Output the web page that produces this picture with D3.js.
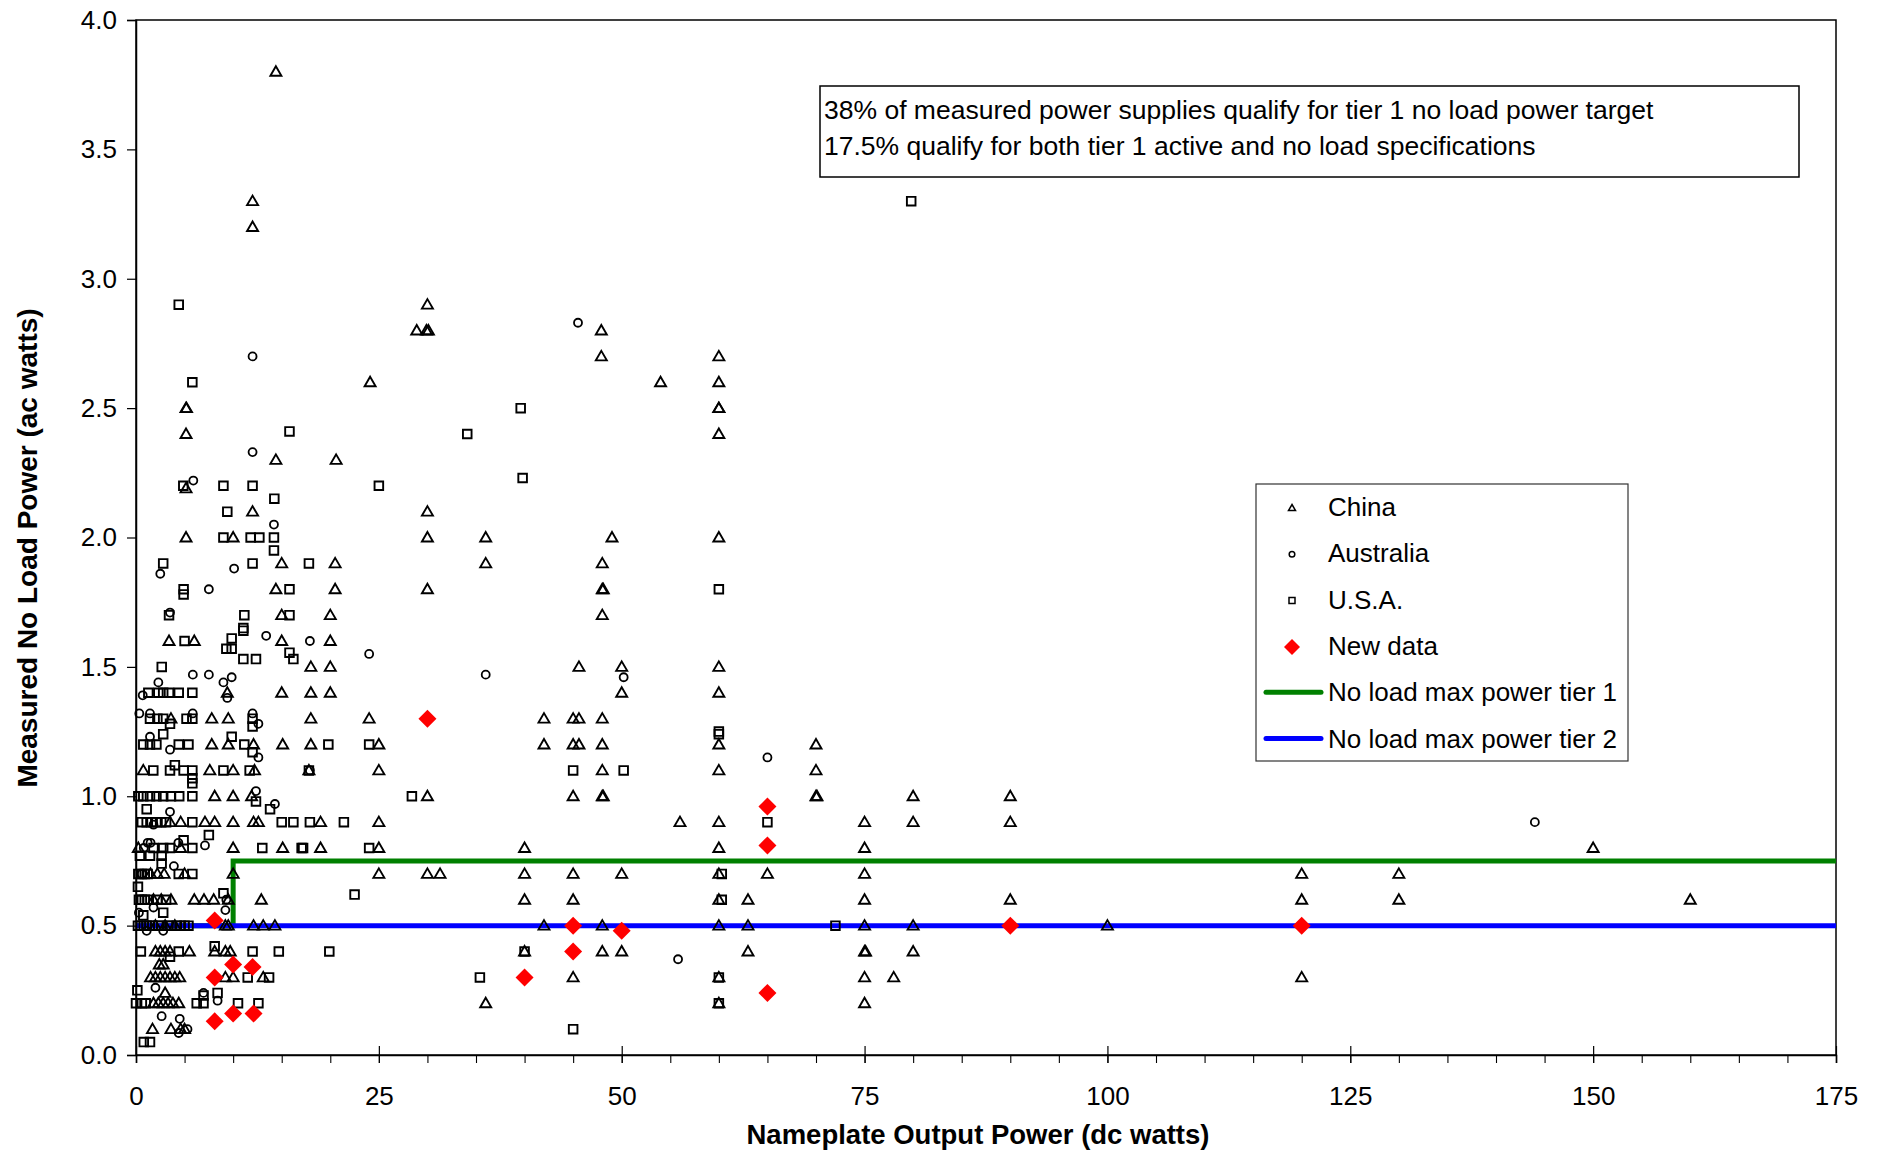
<!DOCTYPE html>
<html>
<head>
<meta charset="utf-8">
<script src="https://cdn.jsdelivr.net/npm/d3@7"></script>
<style>
  body { margin: 0; background: #fff; }
  text { font-family: Arial, "Liberation Sans", sans-serif; fill: #000; }
</style>
</head>
<body>
<div id="chart"></div>
<script>
// No load power vs nameplate output power, scatter by region of measurement

// China (triangles) [watts out, watts no load]
const chinaPts = [
  [14.4,3.8],[12,3.3],[12,3.2],
  [30,2.9],[28.9,2.8],[29.9,2.8],[30.1,2.8],[47.9,2.8],[47.9,2.7],
  [60,2.7],[60,2.6],[60,2.5],[60,2.5],[60,2.4],[54,2.6],[24.1,2.6],
  [5.15,2.5],[5.2,2.5],[5.15,2.4],[14.4,2.3],[20.6,2.3],[5.15,2.19],
  [30,2.1],[12,2.1],
  [30,2.0],[36,2.0],[49,2.0],[60,2.0],[5.15,2.0],[10,2.0],
  [20.5,1.9],[36,1.9],[48,1.9],[15,1.9],
  [20.5,1.8],[30,1.8],[48,1.8],[48.1,1.8],[14.4,1.8],
  [20,1.7],[48,1.7],[15,1.7],
  [20,1.6],[15,1.6],[3.4,1.6],[6,1.6],
  [18,1.5],[20,1.5],[45.6,1.5],[50,1.5],[60,1.5],
  [18,1.4],[20,1.4],[50,1.4],[60,1.4],[15,1.4],[9.4,1.4],
  [18,1.3],[24,1.3],[42,1.3],[45,1.3],[45.6,1.3],[48,1.3],[3.6,1.3],[7.8,1.3],[9.5,1.3],
  [60,1.2],[18,1.2],[25,1.2],[42,1.2],[45,1.2],[45.6,1.2],[48,1.2],[70,1.2],[7.8,1.2],[9.5,1.2],[12.1,1.2],[15.1,1.2],
  [17.8,1.1],[25,1.1],[48,1.1],[60,1.1],[70,1.1],[0.75,1.1],[7.6,1.1],[10,1.1],[12.2,1.1],
  [30,1.0],[45,1.0],[48,1.0],[48.1,1.0],[70,1.0],[70.1,1.0],[80,1.0],[90,1.0],[8.1,1.0],[10,1.0],[11.9,1.0],
  [19,0.9],[25,0.9],[56,0.9],[60,0.9],[75,0.9],[80,0.9],[90,0.9],[3.5,0.9],[4.6,0.9],[7.1,0.9],[8.1,0.9],[10,0.9],[12.1,0.9],[12.6,0.9],
  [19,0.8],[25,0.8],[40,0.8],[60,0.8],[75,0.8],[150,0.8],[0.24,0.8],[4.6,0.8],[10,0.8],[15.1,0.8],
  [25,0.7],[30,0.7],[31.3,0.7],[40,0.7],[45,0.7],[50,0.7],[60,0.7],[65,0.7],[75,0.7],[120,0.7],[130,0.7],[10,0.7],[1.5,0.7],[2.2,0.7],[2.9,0.7],[5,0.7],
  [40,0.6],[45,0.6],[60,0.6],[63,0.6],[75,0.6],[90,0.6],[120,0.6],[130,0.6],[160,0.6],[1.8,0.6],[2.6,0.6],[3.6,0.6],[6,0.6],[7,0.6],[8,0.6],[9.5,0.6],[12.9,0.6],
  [42,0.5],[48,0.5],[60,0.5],[63,0.5],[75,0.5],[80,0.5],[100,0.5],[9.2,0.5],[9.5,0.5],[12.1,0.5],[13.1,0.5],[14.3,0.5],[2,0.5],[3,0.5],[4,0.5],
  [40,0.4],[48,0.4],[50,0.4],[63,0.4],[75,0.4],[75.1,0.4],[80,0.4],[2.0,0.4],[2.5,0.4],[3,0.4],[3.5,0.4],[5.5,0.4],[8.1,0.4],[9.2,0.4],[9.7,0.4],
  [2.4,0.35],[2.8,0.35],
  [45,0.3],[60,0.3],[75,0.3],[78,0.3],[120,0.3],[1.5,0.3],[2,0.3],[2.5,0.3],[3,0.3],[3.5,0.3],[4,0.3],[4.5,0.3],[9.2,0.3],[10,0.3],[13.1,0.3],
  [3.0,0.24],
  [36,0.2],[60,0.2],[75,0.2],[1.8,0.2],[2.3,0.2],[2.8,0.2],[3.3,0.2],[3.8,0.2],[4.4,0.2],
  [1.7,0.1],[3.6,0.1],[4.6,0.1],[5.0,0.1]
];

// Australia (circles)
const australiaPts = [
  [12,2.7],[45.5,2.83],[12,2.33],[5.9,2.22],[14.2,2.05],[2.5,1.86],[10.1,1.88],[7.5,1.8],[3.5,1.71],
  [13.4,1.62],[17.9,1.6],[24,1.55],[5.85,1.47],[7.5,1.47],[9.85,1.46],[9.0,1.44],[2.3,1.44],[9.4,1.38],
  [0.69,1.39],[36,1.47],[50.2,1.46],[0.34,1.32],[1.44,1.32],[5.84,1.32],[12,1.32],[12.6,1.28],[1.44,1.23],
  [3.5,1.18],[12.6,1.15],[65,1.15],[17.9,1.1],[12.35,1.02],[14.3,0.97],[3.5,0.94],[1.8,0.89],[4.36,0.82],
  [7.1,0.81],[1.2,0.82],[0.8,0.8],[1.8,0.57],[9.2,0.56],[1.1,0.48],[2.8,0.48],[9.3,0.6],[6.95,0.24],
  [8.4,0.21],[2.64,0.15],[4.5,0.14],[4.4,0.085],[5.3,0.1],[55.8,0.37],[144,0.9],[0.6,0.7],[1.5,0.82],
  [3.9,0.73],[0.3,0.55],[2.0,0.26]
];

// U.S.A. (squares)
const usaPts = [
  [4.4,2.9],[5.8,2.6],[79.8,3.3],[39.6,2.5],[34.1,2.4],[15.8,2.41],[25,2.2],[39.8,2.23],[4.87,2.2],[9,2.2],[12,2.2],
  [14.24,2.15],[9.4,2.1],[9,2.0],[11.8,2.0],[12.7,2.0],[14.2,2.0],[14.2,1.95],[2.8,1.9],[12,1.9],[17.8,1.9],
  [4.9,1.8],[4.9,1.78],[15.8,1.8],[60,1.8],[3.4,1.7],[11.15,1.7],[15.8,1.7],[11.05,1.64],[11.05,1.65],
  [5.0,1.6],[9.85,1.61],[9.3,1.57],[9.85,1.57],[11.05,1.53],[12.35,1.53],[15.8,1.555],[16.2,1.53],[2.65,1.5],
  [1.27,1.4],[2.3,1.4],[2.8,1.4],[3.4,1.4],[4.4,1.4],[5.8,1.4],
  [1.44,1.3],[2.2,1.3],[2.8,1.3],[5.2,1.3],[5.8,1.3],[12,1.3],[3.5,1.28],[12,1.27],
  [2.8,1.24],[9.85,1.23],[60,1.25],[60,1.24],
  [0.75,1.2],[1.44,1.2],[2.1,1.2],[4.4,1.2],[5.4,1.2],[11.15,1.2],[19.8,1.2],[24,1.2],[12,1.17],
  [1.78,1.1],[3.5,1.1],[4.9,1.1],[5.8,1.1],[9,1.1],[11.7,1.1],[4.0,1.12],[17.8,1.1],[45,1.1],[50.2,1.1],
  [5.8,1.07],[5.8,1.05],
  [0.24,1.0],[0.75,1.0],[1.44,1.0],[2.1,1.0],[2.8,1.0],[3.6,1.0],[4.45,1.0],[5.8,1.0],[12.35,0.98],[13.8,0.95],[1.1,0.95],[28.4,1.0],
  [0.6,0.9],[1.1,0.9],[1.6,0.9],[2.1,0.9],[2.6,0.9],[3.1,0.9],[5.8,0.9],[15,0.9],[16.2,0.9],[17.9,0.9],[21.4,0.9],[65,0.9],
  [7.5,0.85],
  [1.8,0.8],[2.8,0.8],[3.5,0.8],[4.9,0.83],[5.8,0.8],[13,0.8],[17.05,0.8],[17.2,0.8],[24,0.8],[0.4,0.77],[1.44,0.77],[2.64,0.77],[2.64,0.74],
  [0.24,0.7],[0.6,0.7],[0.9,0.7],[1.2,0.7],[4.4,0.7],[5.8,0.7],[60.3,0.7],[0.2,0.65],
  [9.0,0.625],[22.5,0.62],
  [0.3,0.6],[0.6,0.6],[0.9,0.6],[1.2,0.6],[2.2,0.6],[3.1,0.6],[60.3,0.6],[0.75,0.54],[2.8,0.55],
  [0.2,0.5],[0.5,0.5],[0.8,0.5],[1.1,0.5],[1.4,0.5],[1.7,0.5],[2.3,0.5],[2.6,0.5],[3.3,0.5],[3.6,0.5],[4.2,0.5],[4.6,0.5],[5.0,0.5],[5.4,0.5],[72,0.5],
  [0.5,0.4],[4.4,0.4],[8.1,0.42],[12,0.4],[14.7,0.4],[19.9,0.4],[40,0.4],[3.5,0.38],
  [11.5,0.3],[13.7,0.3],[35.4,0.3],[60,0.3],
  [0.14,0.25],[8.4,0.24],[6.95,0.23],
  [0.0,0.2],[0.6,0.2],[1.0,0.2],[6.25,0.2],[6.95,0.2],[10.5,0.2],[12.6,0.2],[60,0.2],
  [45,0.1],
  [0.8,0.05],[1.44,0.05]
];

// New data (red diamonds)
const newPts = [
  [30,1.3],[65,0.96],[65,0.81],[90,0.5],[120,0.5],[45,0.5],[50,0.48],[45,0.4],[40,0.3],[65,0.24],
  [8.1,0.52],[10,0.35],[12,0.34],[8.1,0.3],[10,0.16],[12.1,0.16],[8.1,0.13]
];

// limit lines
const tier1Line = [[0,0.5],[10,0.5],[10,0.75],[175,0.75]];
const tier2Line = [[0,0.5],[175,0.5]];

const xMajorTicks = [0,25,50,75,100,125,150,175];
const xMinorTicks = d3.range(0,176,5);
const yTicks = [0,0.5,1,1.5,2,2.5,3,3.5,4];

const legendLabels = ['China','Australia','U.S.A.','New data','No load max power tier 1','No load max power tier 2'];
const noteLines = [
  '38% of measured power supplies qualify for tier 1 no load power target',
  '17.5% qualify for both tier 1 active and no load specifications'
];

const W = 1879, H = 1152;
const margin = {top: 20, right: 43, bottom: 97, left: 136};
const width = W - margin.left - margin.right;
const height = H - margin.top - margin.bottom;

const svg = d3.select('#chart').append('svg')
  .attr('width', W)
  .attr('height', H);

const g = svg.append('g')
  .attr('transform', `translate(${margin.left},${margin.top})`);

const x = d3.scaleLinear().domain([0, 175]).range([0, width]);
const y = d3.scaleLinear().domain([0, 4]).range([height, 0]);

// plot frame
g.append('rect')
  .attr('width', width)
  .attr('height', height)
  .attr('fill', 'none')
  .attr('stroke', '#000')
  .attr('stroke-width', 1.5);

// y axis
const yAxis = g.append('g')
  .call(d3.axisLeft(y).tickValues(yTicks).tickFormat(d3.format('.1f')).tickSize(9).tickPadding(10));
yAxis.select('.domain').attr('stroke-width', 1.5);
yAxis.selectAll('line').attr('stroke-width', 1.2);
yAxis.selectAll('text').style('font-size', '26px').attr('fill', '#111');

// x axis minor ticks (outside)
const xMinor = g.append('g')
  .attr('transform', `translate(0,${height})`)
  .call(d3.axisBottom(x).tickValues(xMinorTicks).tickFormat('').tickSize(8));
xMinor.select('.domain').attr('stroke-width', 1.5);
xMinor.selectAll('line').attr('stroke-width', 1.1);

// x axis major ticks (cross)
const xAxis = g.append('g')
  .attr('transform', `translate(0,${height})`)
  .call(d3.axisBottom(x).tickValues(xMajorTicks).tickFormat(d3.format('d')).tickSize(8).tickPadding(24));
xAxis.select('.domain').remove();
xAxis.selectAll('line').attr('y1', -9).attr('stroke-width', 1.2);
xAxis.selectAll('text').style('font-size', '26px').attr('fill', '#111');

// axis titles
svg.append('text')
  .attr('transform', `translate(37,548) rotate(-90)`)
  .attr('text-anchor', 'middle')
  .style('font-size', '28px')
  .style('font-weight', 'bold')
  .text('Measured No Load Power (ac watts)');

svg.append('text')
  .attr('x', 978)
  .attr('y', 1144)
  .attr('text-anchor', 'middle')
  .style('font-size', '27.5px')
  .style('font-weight', 'bold')
  .text('Nameplate Output Power (dc watts)');

// limit lines
const line = d3.line().x(d => x(d[0])).y(d => y(d[1]));
g.append('path')
  .datum(tier1Line)
  .attr('d', line)
  .attr('fill', 'none')
  .attr('stroke', '#008000')
  .attr('stroke-width', 5);
g.append('path')
  .datum(tier2Line)
  .attr('d', line)
  .attr('fill', 'none')
  .attr('stroke', '#0000ff')
  .attr('stroke-width', 5);

// marker shapes
const triPath = 'M0,-5.5L5.5,4L-5.5,4Z';
const sqPath = 'M-4.3,-4.3H4.3V4.3H-4.3Z';
const diaPath = 'M0,-9L9,0L0,9L-9,0Z';

function drawPts(pts, shape) {
  const sel = g.append('g').selectAll('.pt')
    .data(pts)
    .enter();
  if (shape === 'circle') {
    sel.append('circle')
      .attr('cx', d => x(d[0]))
      .attr('cy', d => y(d[1]))
      .attr('r', 4)
      .attr('fill', 'none')
      .attr('stroke', '#000')
      .attr('stroke-width', 1.8);
  } else if (shape === 'diamond') {
    sel.append('path')
      .attr('transform', d => `translate(${x(d[0])},${y(d[1])})`)
      .attr('d', diaPath)
      .attr('fill', '#ff0000');
  } else {
    sel.append('path')
      .attr('transform', d => `translate(${x(d[0])},${y(d[1])})`)
      .attr('d', shape === 'tri' ? triPath : sqPath)
      .attr('fill', 'none')
      .attr('stroke', '#000')
      .attr('stroke-width', 1.9)
      .attr('stroke-linejoin', 'miter');
  }
}

drawPts(chinaPts, 'tri');
drawPts(australiaPts, 'circle');
drawPts(usaPts, 'square');
drawPts(newPts, 'diamond');

// note box
svg.append('rect')
  .attr('x', 820).attr('y', 86)
  .attr('width', 979).attr('height', 91)
  .attr('fill', '#fff')
  .attr('stroke', '#000')
  .attr('stroke-width', 1.5);
noteLines.forEach((t, i) => {
  svg.append('text')
    .attr('x', 824)
    .attr('y', 119 + i * 36)
    .style('font-size', '26.5px')
    .text(t);
});

// legend
const lg = svg.append('g');
lg.append('rect')
  .attr('x', 1256).attr('y', 484)
  .attr('width', 372).attr('height', 277)
  .attr('fill', '#fff')
  .attr('stroke', '#333')
  .attr('stroke-width', 1.2);

const rowY = i => 507 + i * 46.3;
legendLabels.forEach((lab, i) => {
  const cy = rowY(i);
  const sx = 1292;
  if (i === 0) {
    lg.append('path').attr('transform', `translate(${sx},${cy + 1})`)
      .attr('d', 'M0,-3.5L3.5,2.5L-3.5,2.5Z')
      .attr('fill', 'none').attr('stroke', '#000').attr('stroke-width', 1.5);
  } else if (i === 1) {
    lg.append('circle').attr('cx', sx).attr('cy', cy + 1).attr('r', 2.8)
      .attr('fill', 'none').attr('stroke', '#000').attr('stroke-width', 1.5);
  } else if (i === 2) {
    lg.append('path').attr('transform', `translate(${sx},${cy + 1})`)
      .attr('d', 'M-3,-3H3V3H-3Z')
      .attr('fill', 'none').attr('stroke', '#000').attr('stroke-width', 1.5);
  } else if (i === 3) {
    lg.append('path').attr('transform', `translate(${sx},${cy + 1})`)
      .attr('d', 'M0,-8L8,0L0,8L-8,0Z')
      .attr('fill', '#ff0000');
  } else {
    lg.append('line')
      .attr('x1', 1266).attr('x2', 1321)
      .attr('y1', cy).attr('y2', cy)
      .attr('stroke', i === 4 ? '#008000' : '#0000ff')
      .attr('stroke-width', 5)
      .attr('stroke-linecap', 'round');
  }
  lg.append('text')
    .attr('x', 1328)
    .attr('y', cy + 9)
    .style('font-size', '26px')
    .text(lab);
});
</script>
</body>
</html>
